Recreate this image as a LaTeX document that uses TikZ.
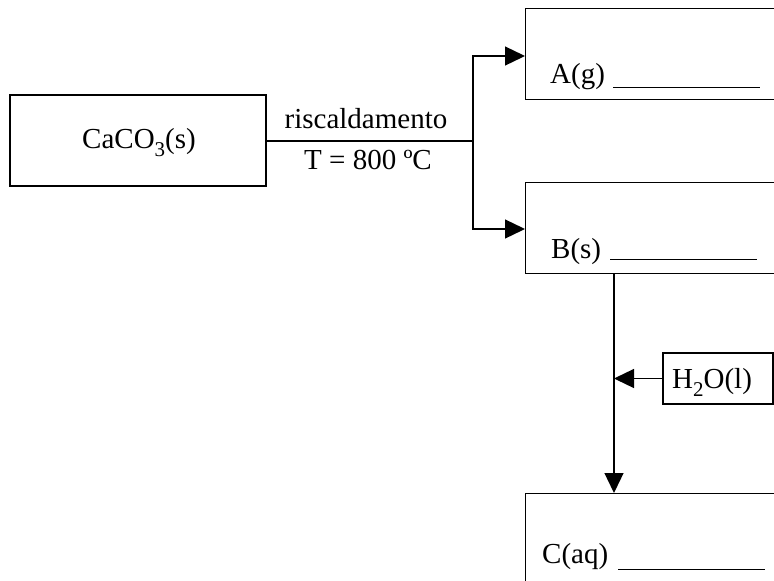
\documentclass[tikz,border=0pt]{standalone}
\usepackage{fontspec}
\setmainfont{Liberation Serif}
\usetikzlibrary{arrows.meta}
\newcommand{\lowsub}[1]{\raisebox{-8pt}{\fontsize{21}{21}\selectfont #1}}
\begin{document}
\begin{tikzpicture}[x=1pt,y=-1pt,
  every node/.style={font=\fontsize{29}{33}\selectfont, inner sep=0pt},
  box/.style={draw, line width=1.3pt, rectangle},
  line/.style={line width=1.3pt},
  arr/.style={line width=1.3pt, -{Triangle[length=20pt,width=19pt]}},
  blank/.style={line width=1pt}]
\useasboundingbox (0,0) rectangle (774,581);
\clip (0,0) rectangle (774,581);
% boxes
\node[box, minimum width=256pt, minimum height=91pt] (caco) at (138,140.5) {};
\node[box, anchor=north west, minimum width=300pt, minimum height=91pt] (A) at (525,8) {};
\node[box, anchor=north west, minimum width=300pt, minimum height=91pt] (B) at (525,182) {};
\node[box, anchor=north west, minimum width=300pt, minimum height=120pt] (C) at (525,493) {};
\node[box, minimum width=110pt, minimum height=51pt] (h2o) at (718,378.5) {};
% labels
\node[anchor=base west] (lcaco) at (82,148) {CaCO\lowsub{3}(s)};
\node[anchor=base west] (lh2o) at (672,388) {H\lowsub{2}O(l)};
\node[anchor=base] (heat) at (366,128) {riscaldamento};
\node[anchor=base] (temp) at (368,169) {T = 800 ºC};
\node[anchor=base west] (la) at (550,83) {A(g)};
\node[anchor=base west] (lb) at (551,258) {B(s)};
\node[anchor=base west] (lc) at (542,563) {C(aq)};
% blanks
\draw[blank] (613,87) -- (760,87);
\draw[blank] (610,259) -- (757,259);
\draw[blank] (618,569.5) -- (765,569.5);
% connectors
\coordinate (split) at (473,141);
\coordinate (ta) at (525,56);
\coordinate (tb) at (525,229);
\coordinate (bs) at (614,273);
\coordinate (ct) at (614,493);
\coordinate (wj) at (614,378.5);
\draw[line] (caco.east |- split) -- (split);
\draw[arr] (split) |- (ta);
\draw[arr] (split) |- (tb);
\draw[arr] (bs) -- (ct);
\draw[arr] (h2o.west) -- (wj);
\end{tikzpicture}
\end{document}
